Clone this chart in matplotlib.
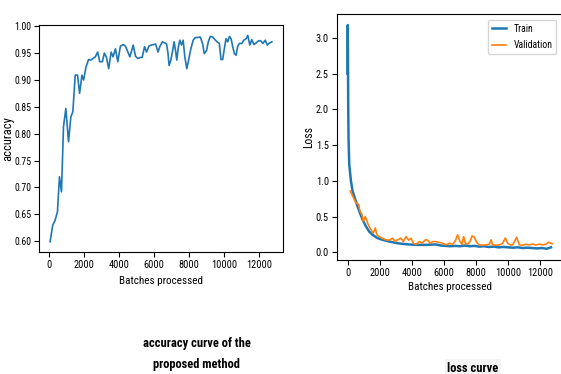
import matplotlib
matplotlib.use("Agg")
import matplotlib.pyplot as plt
from matplotlib import font_manager

# accuracy curve (batches, accuracy)
acc_x = [58, 210, 345, 480, 595, 710, 825, 960, 1112, 1245, 1360, 1495, 1630, 1745, 1880,
         1975, 2110, 2260, 2390, 2550, 2640, 2780, 2895, 3050, 3160, 3275, 3410, 3550, 3660, 3795,
         3930, 4080, 4235, 4370, 4505, 4620, 4755, 4812, 4945, 5080, 5230, 5325, 5460, 5575, 5710,
         5845, 5995, 6090, 6230, 6345, 6480, 6615, 6720, 6800, 6862, 6958, 7053, 7150, 7245, 7302,
         7398, 7475, 7570, 7667, 7763, 7878, 7973, 8108, 8242, 8357, 8491, 8645, 8779, 8874, 9008,
         9104, 9219, 9353, 9488, 9603, 9737, 9833, 9928, 10023, 10120, 10215, 10311, 10407, 10503, 10598,
         10694, 10790, 10886, 11020, 11135, 11270, 11365, 11480, 11595, 11710, 11845, 11978, 12094, 12228, 12363,
         12477, 12612, 12745]
acc_y = [0.599, 0.630, 0.639, 0.655, 0.720, 0.692, 0.813, 0.847, 0.785, 0.831, 0.841, 0.909, 0.909, 0.875, 0.909,
         0.900, 0.924, 0.938, 0.937, 0.941, 0.943, 0.952, 0.934, 0.934, 0.950, 0.943, 0.921, 0.952, 0.943, 0.958,
         0.934, 0.963, 0.966, 0.963, 0.952, 0.943, 0.958, 0.965, 0.944, 0.940, 0.942, 0.942, 0.962, 0.952, 0.963,
         0.965, 0.966, 0.967, 0.952, 0.963, 0.971, 0.969, 0.967, 0.950, 0.927, 0.936, 0.952, 0.971, 0.952, 0.937,
         0.962, 0.974, 0.965, 0.974, 0.943, 0.921, 0.936, 0.958, 0.974, 0.979, 0.979, 0.980, 0.968, 0.949, 0.955,
         0.971, 0.981, 0.980, 0.975, 0.971, 0.968, 0.938, 0.938, 0.958, 0.977, 0.971, 0.981, 0.977, 0.962, 0.949,
         0.946, 0.963, 0.968, 0.968, 0.974, 0.977, 0.983, 0.965, 0.975, 0.966, 0.969, 0.973, 0.973, 0.968, 0.974,
         0.965, 0.969, 0.971]

# loss curve
train_x = [0, 15, 40, 60, 105, 210, 310, 480, 620, 770, 935, 1145, 1350, 1560, 1870,
           2180, 2600, 3115, 3640, 4260, 4885, 5510, 5800, 6100, 6400, 6700, 7000, 7300, 7600, 7900,
           8200, 8500, 8800, 9100, 9400, 9700, 10000, 10300, 10600, 10900, 11200, 11500, 11800, 12100, 12400,
           12670]
train_y = [2.5, 3.18, 2.1, 1.6, 1.23, 1.0, 0.86, 0.74, 0.645, 0.55, 0.457, 0.363, 0.29, 0.245, 0.198,
           0.175, 0.151, 0.127, 0.113, 0.104, 0.104, 0.11, 0.095, 0.09, 0.085, 0.09, 0.085, 0.095, 0.085, 0.09,
           0.08, 0.085, 0.075, 0.08, 0.07, 0.075, 0.07, 0.065, 0.07, 0.06, 0.065, 0.06, 0.055, 0.06, 0.05,
           0.07]
val_x = [168, 274, 417, 523, 690, 772, 896, 978, 1103, 1246, 1352, 1457, 1600, 1726, 1828,
         1973, 2143, 2389, 2598, 2806, 2972, 3115, 3326, 3470, 3638, 3805, 3950, 4096, 4262, 4470,
         4635, 4843, 4988, 5134, 5301, 5510, 5920, 6130, 6336, 6542, 6710, 6853, 7003, 7127, 7227,
         7333, 7476, 7625, 7750, 7894, 8037, 8205, 8411, 8622, 8828, 8934, 9034, 9245, 9451, 9657,
         9825, 9968, 10136, 10280, 10529, 10697, 10903, 11114, 11320, 11526, 11737, 11943, 12149, 12360, 12522,
         12734]
val_y = [0.857, 0.81, 0.74, 0.69, 0.67, 0.575, 0.53, 0.43, 0.50, 0.41, 0.36, 0.316, 0.27, 0.34, 0.245,
         0.22, 0.198, 0.175, 0.17, 0.198, 0.15, 0.175, 0.198, 0.15, 0.22, 0.17, 0.198, 0.127, 0.113, 0.15,
         0.127, 0.175, 0.17, 0.127, 0.15, 0.15, 0.127, 0.104, 0.127, 0.113, 0.16, 0.245, 0.15, 0.113, 0.22,
         0.127, 0.113, 0.15, 0.23, 0.21, 0.141, 0.104, 0.10, 0.104, 0.113, 0.175, 0.104, 0.10, 0.104, 0.127,
         0.2, 0.127, 0.104, 0.104, 0.21, 0.104, 0.10, 0.113, 0.104, 0.113, 0.104, 0.113, 0.104, 0.113, 0.141,
         0.12]

# narrow font if one is around, the original text is squeezed
names = {f.name for f in font_manager.fontManager.ttflist}
narrow = next((n for n in ["Liberation Sans Narrow", "Roboto Condensed", "Open Sans Condensed"] if n in names),
              "Liberation Sans")
plt.rcParams["font.family"] = [narrow, "DejaVu Sans"]
plt.rcParams["font.size"] = 8

fig = plt.figure(figsize=(5.61, 3.74), dpi=100)

ax1 = fig.add_axes([0.0695, 0.326, 0.435, 0.607])
ax1.plot(acc_x, acc_y, color="#1f77b4", lw=1.2)
ax1.set_xlabel("Batches processed", labelpad=4)
ax1.set_ylabel("accuracy", fontsize=9)
ax1.yaxis.set_label_coords(-0.1, 0.5)
ax1.set_xticks(range(0, 12001, 2000))
ax1.set_yticks([0.60, 0.65, 0.70, 0.75, 0.80, 0.85, 0.90, 0.95, 1.00])
ax1.tick_params(axis="x", labelsize=7.5, pad=2.5)
ax1.tick_params(axis="y", labelsize=7, pad=2)

ax2 = fig.add_axes([0.6013, 0.305, 0.401, 0.658])
ax2.plot(train_x, train_y, color="#1f77b4", lw=1.8, label="Train")
ax2.plot(val_x, val_y, color="#ff7f0e", lw=1.2, label="Validation")
ax2.set_xlabel("Batches processed", labelpad=3)
ax2.set_ylabel("Loss", fontsize=8.5)
ax2.yaxis.set_label_coords(-0.1, 0.5)
ax2.set_xticks(range(0, 12001, 2000))
ax2.set_yticks([0.0, 0.5, 1.0, 1.5, 2.0, 2.5, 3.0])
ax2.tick_params(labelsize=7.5, pad=2.5)
ax2.legend(loc="upper right", fontsize=7, handlelength=1.4, labelspacing=0.7, borderaxespad=0.6)

fig.text(0.351, 0.053, "accuracy curve of the\nproposed method", ha="center", va="center",
         fontsize=9, fontweight="bold", linespacing=1.75)
fig.text(0.843, 0.016, "loss curve", ha="center", va="center", fontsize=9, fontweight="bold",
         bbox=dict(facecolor="#f4f4f4", edgecolor="none", pad=1.5))

fig.savefig("out.png", dpi=100)
